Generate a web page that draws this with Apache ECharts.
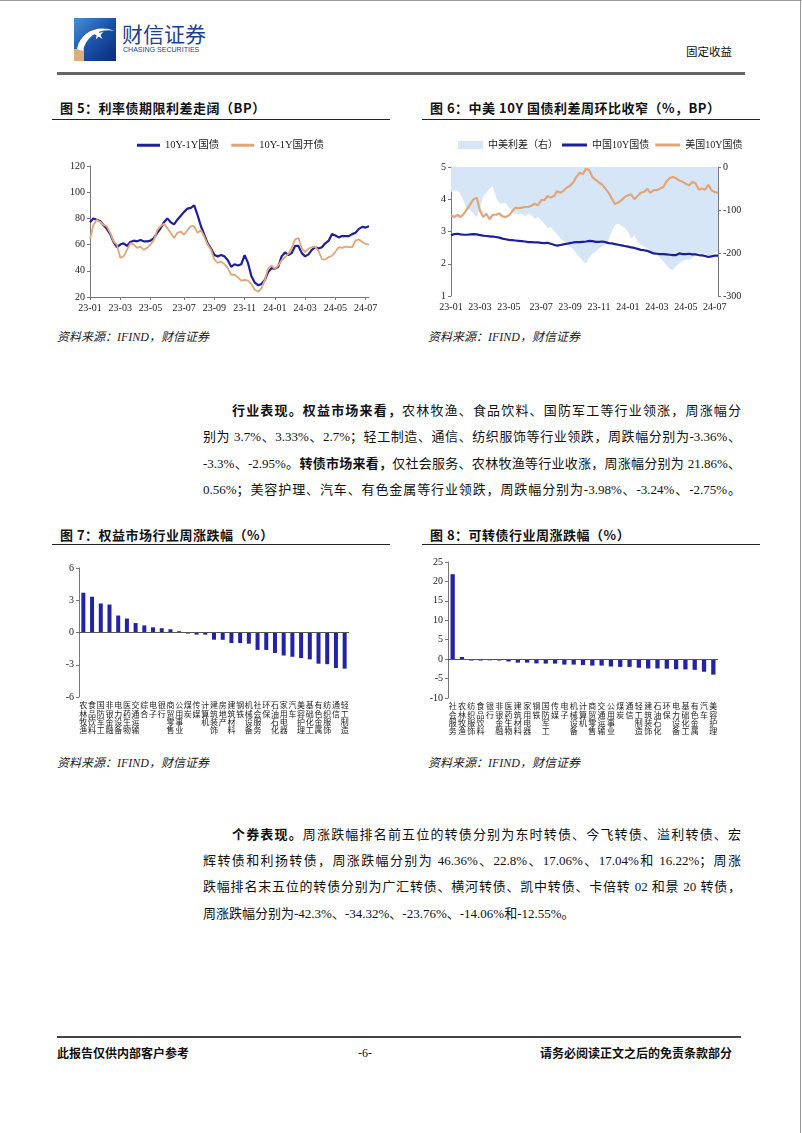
<!DOCTYPE html>
<html>
<head>
<meta charset="utf-8">
<script src="https://cdn.jsdelivr.net/npm/echarts@6/dist/echarts.min.js"></script>
<style>
  body { margin: 0; background: #fff; }
  #page { position: relative; width: 802px; height: 1133px; overflow: hidden; background: #fff;
          font-family: "Liberation Serif", "Noto Sans CJK SC", serif; color: #111; }
  .abs { position: absolute; white-space: nowrap; }
  .ttl { position: absolute; font-family: "Noto Sans CJK SC"; font-size: 13px; font-weight: bold;
         letter-spacing: 0.5px; line-height: 16px; white-space: nowrap; color: #111; }
  .rule { position: absolute; height: 1.5px; background: #222; }
  .src { position: absolute; font-size: 12px; font-style: italic; line-height: 14px; white-space: nowrap; color: #222; }
  .ln { position: absolute; height: 26px; line-height: 26px; font-size: 13px; text-align: justify; text-align-last: justify; color: #111; }
  .ln b { font-family: "Noto Sans CJK SC"; }
  .chart { position: absolute; }
</style>
</head>
<body>
<div id="page">
  <!-- 页面边框 -->
  <div class="abs" style="left:0;top:0;width:802px;height:1px;background:#999"></div>
  <div class="abs" style="left:800px;top:0;width:1px;height:1133px;background:#999"></div>

  <!-- 页眉 -->
  <svg class="abs" style="left:74px;top:18px" width="42" height="43" viewBox="0 0 42 43">
    <defs>
      <linearGradient id="lg" x1="0" y1="0" x2="1" y2="1">
        <stop offset="0" stop-color="#4a8fd8"/>
        <stop offset="0.5" stop-color="#1b52a8"/>
        <stop offset="1" stop-color="#0b2b7c"/>
      </linearGradient>
    </defs>
    <rect x="0" y="0" width="42" height="43" fill="url(#lg)"/>
    <rect x="0" y="31" width="10" height="12" fill="#dcae7e"/>
    <path d="M3 31 C 6 14, 24 6, 41 13 C 27 10, 12 17, 9 33 Z" fill="#fff"/>
    <path d="M23 11 l2.5 4 l4 -1.5 l-3 3.5 l2 4 l-3.8 -2.5 l-3 3 l1 -4 l-3.5 -2 l4 -0.5 z" fill="#fff"/>
  </svg>
  <div class="abs" style="left:122px;top:20px;font-family:'Noto Sans CJK SC';font-size:21px;line-height:26px;color:#1d3f8e">财信证券</div>
  <div class="abs" style="left:123px;top:45px;font-family:'Liberation Sans';font-size:8px;line-height:10px;color:#1d3f8e;transform:scaleX(0.88);transform-origin:left">CHASING SECURITIES</div>
  <div class="abs" style="left:686px;top:44px;font-family:'Noto Sans CJK SC';font-size:11.5px;line-height:14px;color:#111">固定收益</div>
  <div class="abs" style="left:57px;top:72px;width:688px;height:2.5px;background:#666"></div>

  <!-- 图5 / 图6 -->
  <div class="ttl" style="left:60px;top:100px">图 5：利率债期限利差走阔（BP）</div>
  <div class="rule" style="left:52px;top:118.5px;width:338px"></div>
  <div class="ttl" style="left:430px;top:100px">图 6：中美 10Y 国债利差周环比收窄（%，BP）</div>
  <div class="rule" style="left:422px;top:118.5px;width:338px"></div>

  <div id="c5" class="chart" style="left:40px;top:125px;width:350px;height:195px"></div>
  <div id="c6" class="chart" style="left:415px;top:125px;width:360px;height:195px"></div>

  <div class="src" style="left:57px;top:330px">资料来源：IFIND，财信证券</div>
  <div class="src" style="left:428px;top:330px">资料来源：IFIND，财信证券</div>

  <!-- 正文一 -->
  <div class="ln" style="left:232px;top:397px;width:509px"><b>行业表现。权益市场来看，</b>农林牧渔、食品饮料、国防军工等行业领涨，周涨幅分</div>
  <div class="ln" style="left:203px;top:423.5px;width:538px">别为 3.7%、3.33%、2.7%；轻工制造、通信、纺织服饰等行业领跌，周跌幅分别为-3.36%、</div>
  <div class="ln" style="left:203px;top:450px;width:538px">-3.3%、-2.95%。<b>转债市场来看，</b>仅社会服务、农林牧渔等行业收涨，周涨幅分别为 21.86%、</div>
  <div class="ln" style="left:203px;top:476.5px;width:538px">0.56%；美容护理、汽车、有色金属等行业领跌，周跌幅分别为-3.98%、-3.24%、-2.75%。</div>

  <!-- 图7 / 图8 -->
  <div class="ttl" style="left:60px;top:527px">图 7：权益市场行业周涨跌幅（%）</div>
  <div class="rule" style="left:52px;top:543.5px;width:338px"></div>
  <div class="ttl" style="left:430px;top:527px">图 8：可转债行业周涨跌幅（%）</div>
  <div class="rule" style="left:422px;top:543.5px;width:338px"></div>

  <div id="c7" class="chart" style="left:40px;top:550px;width:350px;height:195px"></div>
  <div id="c8" class="chart" style="left:415px;top:550px;width:360px;height:195px"></div>

  <div class="src" style="left:57px;top:756px">资料来源：IFIND，财信证券</div>
  <div class="src" style="left:428px;top:756px">资料来源：IFIND，财信证券</div>

  <!-- 正文二 -->
  <div class="ln" style="left:232px;top:821px;width:509px"><b>个券表现。</b>周涨跌幅排名前五位的转债分别为东时转债、今飞转债、溢利转债、宏</div>
  <div class="ln" style="left:203px;top:847.5px;width:538px">辉转债和利扬转债，周涨跌幅分别为 46.36%、22.8%、17.06%、17.04%和 16.22%；周涨</div>
  <div class="ln" style="left:203px;top:874px;width:538px">跌幅排名末五位的转债分别为广汇转债、横河转债、凯中转债、卡倍转 02 和景 20 转债，</div>
  <div class="ln" style="left:203px;top:900.5px;width:538px;text-align:left;text-align-last:left">周涨跌幅分别为-42.3%、-34.32%、-23.76%、-14.06%和-12.55%。</div>

  <!-- 页脚 -->
  <div class="abs" style="left:57px;top:1036px;width:684px;height:2px;background:#444"></div>
  <div class="abs" style="left:57px;top:1045px;font-family:'Noto Sans CJK SC';font-size:12px;font-weight:bold;line-height:16px">此报告仅供内部客户参考</div>
  <div class="abs" style="left:358px;top:1045px;font-size:12px;line-height:16px">-6-</div>
  <div class="abs" style="left:540px;top:1045px;font-family:'Noto Sans CJK SC';font-size:12px;font-weight:bold;line-height:16px">请务必阅读正文之后的免责条款部分</div>
</div>

<script>
// 周度日期（2023-01 ~ 2024-07）
var weekDates = [];
for (var i = 0; i < 84; i++) {
  var d = new Date(Date.UTC(2023, 0, 1) + Math.round(i * 6.68) * 86400000);
  weekDates.push(d.toISOString().slice(0, 10));
}

// 图5：期限利差（BP）
var govSpread = [77, 80, 79, 78, 75, 72, 68, 62, 58, 60,
  61, 59, 62, 63, 62.5, 63.5, 62.5, 62.5, 63, 65,
  69, 72.5, 77, 80, 77, 75.5, 79, 82, 85, 87.5,
  88, 90, 82.5, 74, 67.5, 61, 57, 52, 51, 52,
  51, 48, 43, 45, 44, 45, 52, 46, 36, 31,
  29, 30, 33, 39, 42, 41.5, 43, 51, 54, 52,
  53.5, 59, 59, 53.5, 51, 52.5, 56, 58, 57, 58,
  61, 63, 68, 67, 65.5, 66.5, 66.5, 66.5, 68, 69,
  72, 73.5, 73, 74];
var cdbSpread = [64, 75, 79, 77.5, 75, 74, 69, 62.5, 60, 50,
  51, 56, 61, 60, 57.5, 58.5, 56, 57.5, 60, 63.5,
  71, 74, 76, 72.5, 69, 65, 69, 70, 67.5, 71,
  74, 74, 69, 71, 66, 60, 56, 48.5, 46, 47,
  45, 42, 37, 37, 35, 32.5, 33, 32.5, 30, 25.5,
  24, 26.5, 33, 42, 44, 41.5, 44, 48, 50.5, 53,
  57.5, 64, 65, 57, 54.5, 57, 58, 58.5, 55, 49,
  48.5, 50.5, 51.5, 54.5, 58, 57.5, 58.5, 58, 58, 63,
  64, 62, 60.5, 60];

// 图6：中美10Y国债（%）与利差（BP）
var cn10y = [2.88, 2.92, 2.93, 2.91, 2.9, 2.9, 2.91, 2.92, 2.91, 2.89,
  2.87, 2.86, 2.85, 2.84, 2.83, 2.81, 2.78, 2.76, 2.74, 2.73,
  2.72, 2.71, 2.7, 2.69, 2.67, 2.67, 2.66, 2.66, 2.65, 2.64,
  2.65, 2.62, 2.59, 2.56, 2.58, 2.6, 2.62, 2.64, 2.66, 2.67,
  2.67, 2.68, 2.69, 2.71, 2.7, 2.68, 2.68, 2.69, 2.67, 2.64,
  2.63, 2.61, 2.59, 2.57, 2.55, 2.53, 2.51, 2.49, 2.46, 2.43,
  2.42, 2.4, 2.36, 2.32, 2.31, 2.3, 2.3, 2.29, 2.28, 2.27,
  2.27, 2.32, 2.3, 2.3, 2.31, 2.29, 2.29, 2.27, 2.26, 2.24,
  2.21, 2.23, 2.25, 2.25];
var us10y = [3.51, 3.45, 3.51, 3.45, 3.55, 3.7, 3.85, 4.0, 4.05, 3.65,
  3.45, 3.55, 3.38, 3.52, 3.52, 3.56, 3.47, 3.45, 3.5, 3.62,
  3.74, 3.72, 3.74, 3.76, 3.76, 3.8, 3.86, 3.81, 3.97, 3.97,
  4.1, 4.05, 4.1, 4.25, 4.2, 4.27, 4.36, 4.42, 4.52, 4.7,
  4.82, 4.78, 4.95, 4.9, 4.68, 4.6, 4.52, 4.45, 4.33, 4.2,
  4.02, 3.85, 3.9, 3.97, 4.07, 4.12, 4.15, 4.0, 4.1, 4.2,
  4.23, 4.32, 4.2, 4.28, 4.28, 4.33, 4.38, 4.55, 4.66, 4.69,
  4.65, 4.58, 4.54, 4.48, 4.43, 4.53, 4.5, 4.3, 4.33, 4.3,
  4.45, 4.28, 4.22, 4.2];
var cnUsSpread = [-58, -54, -54, -64, -80, -98, -101, -108, -118, -95,
  -68, -60, -50, -45, -70, -84, -85, -84, -94, -104,
  -110, -110, -107, -115, -109, -113, -120, -116, -124, -132,
  -142, -140, -149, -157, -165, -172, -180, -185, -191, -201,
  -210, -219, -224, -211, -202, -196, -190, -185, -181, -170,
  -148, -135, -132, -136, -141, -150, -167, -159, -174, -181,
  -185, -189, -196, -201, -204, -211, -219, -229, -236, -239,
  -230, -224, -219, -215, -216, -212, -204, -199, -204, -202,
  -208, -205, -198, -198];

// 图7：权益市场行业周涨跌幅（%）
var eqInd = ['农林牧渔', '食品饮料', '国防军工', '非银金融', '电力设备', '医药生物', '交通运输', '综合', '电子', '银行',
  '商贸零售', '公用事业', '煤炭', '传媒', '计算机', '建筑装饰', '房地产', '建筑材料', '钢铁', '机械设备',
  '社会服务', '环保', '石油石化', '家用电器', '汽车', '美容护理', '基础化工', '有色金属', '纺织服饰', '通信', '轻工制造'];
var eqChg = [3.7, 3.33, 2.7, 2.6, 1.58, 1.3, 0.88, 0.66, 0.48, 0.4,
  0.3, 0.12, -0.1, -0.2, -0.2, -0.67, -0.68, -0.98, -0.98, -1.04,
  -1.62, -1.62, -1.9, -2.14, -2.26, -2.38, -2.5, -2.9, -2.95, -3.3, -3.36];

// 图8：可转债行业周涨跌幅（%）
var cbInd = ['社会服务', '农林牧渔', '纺织服饰', '食品饮料', '银行', '非银金融', '医药生物', '建筑材料', '家用电器', '钢铁',
  '国防军工', '传媒', '电子', '机械设备', '计算机', '商贸零售', '交通运输', '公用事业', '煤炭', '通信',
  '轻工制造', '建筑装饰', '石油石化', '环保', '电力设备', '基础化工', '有色金属', '汽车', '美容护理'];
var cbChg = [21.86, 0.56, -0.35, -0.35, -0.3, -0.35, -0.6, -0.9, -0.9, -1.1,
  -1.15, -1.15, -1.4, -1.4, -1.5, -1.65, -1.65, -1.9, -2.0, -2.0,
  -2.2, -2.4, -2.4, -2.45, -2.6, -2.65, -2.75, -3.24, -3.98];

var serifFont = '"Liberation Serif", "Noto Sans CJK SC", serif';
var axisGray = '#777';

// 每两个月（单数月）显示一次刻度
function showMonthTick(idx, v) {
  if (idx === 0) return true;
  var m = +weekDates[idx].slice(5, 7);
  var pm = +weekDates[idx - 1].slice(5, 7);
  return m !== pm && m % 2 === 1;
}

function timeAxis() {
  return {
    type: 'category',
    data: weekDates,
    boundaryGap: false,
    axisLine: { lineStyle: { color: axisGray } },
    axisTick: { interval: showMonthTick, length: 3, lineStyle: { color: axisGray } },
    axisLabel: { interval: showMonthTick, formatter: function (v) { return v.slice(2, 7); },
                 fontSize: 10, color: '#222', margin: 6 }
  };
}

function valAxis(min, max, step, extra) {
  var ax = {
    type: 'value', min: min, max: max, interval: step,
    splitLine: { show: false },
    axisLine: { show: true, lineStyle: { color: axisGray } },
    axisTick: { show: true, length: 3, lineStyle: { color: axisGray } },
    axisLabel: { fontSize: 10, color: '#222', margin: 5 }
  };
  for (var k in extra) ax[k] = extra[k];
  return ax;
}

// 图5
var c5 = echarts.init(document.getElementById('c5'));
c5.setOption({
  animation: false,
  textStyle: { fontFamily: serifFont },
  legend: {
    left: 92, top: 10, icon: 'rect', itemWidth: 23, itemHeight: 3, itemGap: 12,
    textStyle: { fontSize: 10.5, color: '#222' },
    data: ['10Y-1Y国债', '10Y-1Y国开债']
  },
  grid: { left: 50, right: 21, top: 41, bottom: 23 },
  xAxis: timeAxis(),
  yAxis: valAxis(20, 120, 20),
  series: [
    { name: '10Y-1Y国债', type: 'line', data: govSpread, showSymbol: false,
      color: '#1f1f9c', lineStyle: { width: 2.2 } },
    { name: '10Y-1Y国开债', type: 'line', data: cdbSpread, showSymbol: false,
      color: '#e0a679', lineStyle: { width: 1.8 } }
  ]
});

// 图6
var c6 = echarts.init(document.getElementById('c6'));
c6.setOption({
  animation: false,
  textStyle: { fontFamily: serifFont },
  legend: [
    { left: 38, top: 10, icon: 'rect', itemWidth: 25, itemHeight: 8,
      textStyle: { fontSize: 10, color: '#222' }, data: ['中美利差（右）'] },
    { left: 142, top: 10, icon: 'rect', itemWidth: 25, itemHeight: 3, itemGap: 6,
      textStyle: { fontSize: 10, color: '#222' }, data: ['中国10Y国债', '美国10Y国债'] }
  ],
  grid: { left: 36, right: 57, top: 42, bottom: 24 },
  xAxis: timeAxis(),
  yAxis: [
    valAxis(1, 5, 1, {}),
    valAxis(-300, 0, 100, { position: 'right' })
  ],
  series: [
    { name: '中美利差（右）', type: 'line', yAxisIndex: 1, data: cnUsSpread, showSymbol: false,
      color: '#d7e6f6', lineStyle: { width: 0, opacity: 0 },
      areaStyle: { color: '#d7e6f6', opacity: 1, origin: 'end' } },
    { name: '中国10Y国债', type: 'line', data: cn10y, showSymbol: false,
      color: '#1f1f9c', lineStyle: { width: 2.2 } },
    { name: '美国10Y国债', type: 'line', data: us10y, showSymbol: false,
      color: '#e0a679', lineStyle: { width: 2.2 } }
  ]
});

function barOption(cats, vals, min, max, step, grid) {
  return {
    animation: false,
    textStyle: { fontFamily: serifFont },
    grid: grid,
    xAxis: {
      type: 'category', data: cats,
      axisLine: { show: false }, axisTick: { show: false },
      axisLabel: { interval: 0, hideOverlap: false,
                   formatter: function (v) { return v.split('').join('\n'); },
                   fontSize: 8, lineHeight: 8.3, verticalAlign: 'top', margin: 5, color: '#222' }
    },
    yAxis: valAxis(min, max, step),
    series: [{
      type: 'bar', data: vals, barWidth: '46%', itemStyle: { color: '#2323a3' },
      markLine: { silent: true, symbol: 'none', label: { show: false },
                  lineStyle: { color: '#555', width: 1, type: 'solid' }, data: [{ yAxis: 0 }] }
    }]
  };
}

// 图7
var c7 = echarts.init(document.getElementById('c7'));
c7.setOption(barOption(eqInd, eqChg, -6, 6, 3, { left: 39, right: 41, top: 18, bottom: 48 }));

// 图8
var c8 = echarts.init(document.getElementById('c8'));
c8.setOption(barOption(cbInd, cbChg, -10, 25, 5, { left: 33, right: 57, top: 12, bottom: 47 }));
</script>
</body>
</html>
